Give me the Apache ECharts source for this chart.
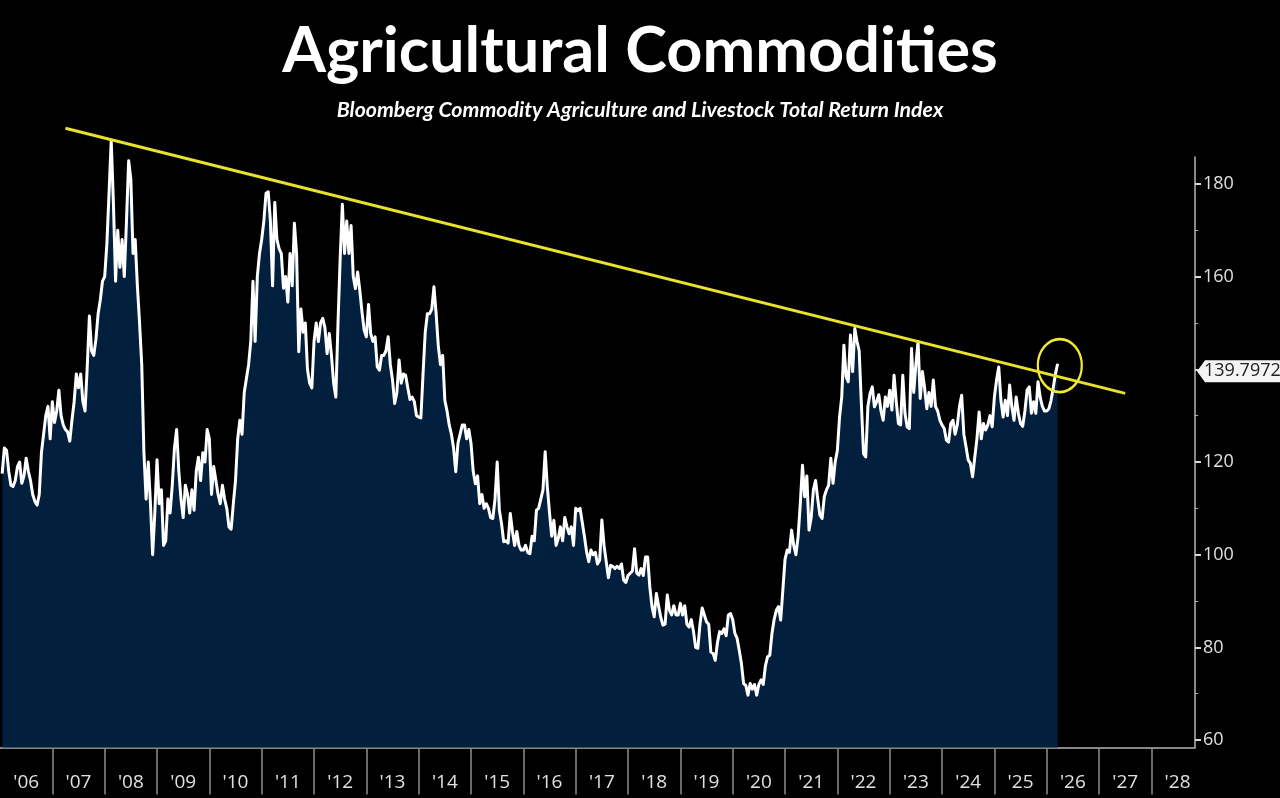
<!DOCTYPE html>
<html>
<head>
    <meta charset="utf-8">
    <script src="https://cdn.jsdelivr.net/npm/echarts@6/dist/echarts.min.js"></script>
    <style>
        html, body { margin: 0; padding: 0; background: #000; }
    </style>
</head>
<body>
    <div id="main" style="width:1280px;height:798px"></div>

    <script type="text/javascript">
        // year labels on the x axis
        var yearLabels = ["'06","'07","'08","'09","'10","'11","'12","'13","'14","'15","'16","'17","'18","'19","'20","'21","'22","'23","'24","'25","'26","'27","'28"];
        var yLabels = [60, 80, 100, 120, 160, 180];
        var yMajor = [60, 80, 100, 120, 140, 160, 180];
        var yMinor = [70, 90, 110, 130, 150, 170];

        // index level, two readings per month
        var v2006 = [null,117.5,123,122.5,118,115,114.7,116,119,120,115.4,117,120.8,118,116,113,111.5,110.7,113,122,126,130,132,125];
        var v2007 = [133,128.5,131,135.5,130,128,127,126.5,124.5,129,133,139,136,139,133,131,140.5,151.5,144,143,146.5,152,155,159];
        var v2008 = [160,167,178,189.3,176,159,170,162,168,160,172,185,181,165,168,158,150,141,122,112,120,111,100,109];
        var v2009 = [120.5,111,114,102,103,112,109,115,123,127,118,112,108,115,113,109,114,109.6,118,121,116,122,120,127];
        var v2010 = [125,113,119,116,113,111,115,112,110,106,105.5,111,116,125,129,126,135,138,141,146,159,146,160,165];
        var v2011 = [168,172,178,178.3,172,158,176,168,166,165,157.5,160,154.5,165,158,171.5,165,143.8,153,148,150,140,137,136];
        var v2012 = [146,150,146,150,151,149,143.4,147.7,143,137,134,150,164,175.6,165,172,165,171,160,157.4,161,157,152.4,148.4];
        var v2013 = [147,154,147.7,146,147,140.5,139.8,143,143,144,147,141,137.7,132.6,135,142,137,139,138.7,136,133.5,134,133,130];
        var v2014 = [129.7,129.5,139,148,152,152,153,157.8,152,145,141,143,133.3,131,128,126,123,117.9,124,126,128,128,125,127];
        var v2015 = [124,118,115.3,117,111,113,110,111,110,108,107.8,112,120,109.6,106.7,102.8,103,102.5,108.9,105,102,105,102,101];
        var v2016 = [101,102,100.5,100.2,104,103,109.6,110,112,114,122.2,114.6,109,104,107.4,102,103.5,106,103,108,106,104.5,106,102];
        var v2017 = [110,109.5,110,107,104,100.6,98.5,101,100,100.5,98,98.8,107.5,102,98.5,95,97.7,97.5,97,97.5,97,98,94.5,94];
        var v2018 = [95.5,96,96.5,101.3,96,95.6,97,95.5,99.5,99.5,93,88.8,86.6,91.6,89,86.5,84.8,85,91.3,88,87,89,87,87];
        var v2019 = [89.5,87,89,85,84.4,86,83.5,80,79.8,85,88.5,87,85.5,85,79,78.7,77.2,81,83.4,83,84,82.5,87,87.3];
        var v2020 = [86,83,82,79.4,76.5,72.2,71.8,69.7,72.2,71,72,69.7,72,73,72,76,78,78.3,83,86,88,88.8,85.9,92.4];
        var v2021 = [99,101,100.5,105.3,102,100,103.9,111,119.3,112.5,117,105.3,108,114,116,112,108.5,107.8,112.5,114,115,120.8,115.4,120];
        var v2022 = [122.5,129.7,134,145.2,138.4,137.3,147.4,139.5,148.8,146,144,132.6,121.8,121.1,132,134.8,136.2,131.9,133,134.5,131,129,134,132];
        var v2023 = [135.5,131.2,138.7,133,128.3,128,138.7,130.5,127.6,127.2,144.5,135,141,146,133.7,139.5,136,131.5,135,132,137.7,132,131,129];
        var v2024 = [128,127.2,124.7,124.3,128.3,129,126,128,132,134.4,126,123.3,120.4,119.7,116.8,121,125,130.8,125,128.3,126.9,128,130,127.6];
        var v2025 = [134,137.7,140.5,133.3,129.7,133.3,130,136.6,131.9,129,134,130.5,128.3,127.7,131,135.5,136.2,130.5,133,130.5,137.3,134,132,131];
        var v2026 = [131,131.5,133.3,136,139,141.2];

        var lastValue = 139.7972;
        var axisMin = 58.4;
        var axisMax = 185.8;

        // index positions on the half-month category axis
        var trendLine = [[30, 192], [516, 134.8]];
        var circleMark = [[486, 140.8]];

        var perYear = 24;
        var categories = [];
        for (var i = 0; i < 549; i++) {
            categories.push(yearLabels[Math.floor(i / perYear)]);
        }
        var values = [].concat(v2006, v2007, v2008, v2009, v2010, v2011, v2012, v2013, v2014, v2015,
            v2016, v2017, v2018, v2019, v2020, v2021, v2022, v2023, v2024, v2025, v2026);

        var myChart = echarts.init(document.getElementById('main'));
        var option = {
            animation: false,
            backgroundColor: '#000',
            title: [{
                text: 'Agricultural Commodities',
                left: 'center',
                top: 15,
                textStyle: { color: '#fff', fontFamily: 'Lato', fontWeight: 'bold', fontSize: 63 }
            }, {
                text: 'Bloomberg Commodity Agriculture and Livestock Total Return Index',
                left: 'center',
                top: 95,
                textStyle: { color: '#fff', fontFamily: 'Lato', fontWeight: 'bold', fontStyle: 'italic', fontSize: 21.3 }
            }],
            grid: { left: 0, right: 85, top: 157, bottom: 50.5 },
            xAxis: {
                type: 'category',
                data: categories,
                boundaryGap: false,
                axisLine: { lineStyle: { color: '#b4b4b4', width: 1.5 } },
                axisTick: {
                    length: 47,
                    interval: function (idx) { return idx % perYear === 0 && idx > 0; },
                    lineStyle: { color: '#8c8c8c', width: 1.5 }
                },
                axisLabel: {
                    interval: function (idx) { return idx % perYear === 12; },
                    color: '#e0e0e0',
                    fontFamily: 'Open Sans',
                    fontSize: 19,
                    margin: 26
                },
                splitLine: { show: false }
            },
            yAxis: [{
                type: 'value',
                position: 'right',
                min: axisMin,
                max: axisMax,
                axisLine: { show: true, lineStyle: { color: '#b4b4b4', width: 1.5 } },
                axisTick: { show: true, length: 6, customValues: yMajor, lineStyle: { color: '#d8d8d8', width: 2 } },
                axisLabel: { customValues: yLabels, color: '#e0e0e0', fontFamily: 'Open Sans', fontSize: 18, margin: 8, padding: [3, 0, 0, 0] },
                splitLine: { show: false }
            }, {
                type: 'value',
                position: 'right',
                min: axisMin,
                max: axisMax,
                axisLine: { show: false },
                axisTick: { show: true, length: 3, customValues: yMinor, lineStyle: { color: '#b4b4b4', width: 1 } },
                axisLabel: { show: false },
                splitLine: { show: false }
            }],
            series: [{
                name: 'Index',
                type: 'line',
                data: values,
                clip: false,
                showSymbol: false,
                symbol: 'none',
                sampling: null,
                lineStyle: { color: '#fff', width: 3, join: 'round' },
                areaStyle: { color: '#021f3e', origin: 'start', opacity: 1 },
                z: 2
            }, {
                name: 'Trend',
                type: 'line',
                data: trendLine,
                clip: false,
                showSymbol: false,
                symbol: 'none',
                lineStyle: { color: '#e8e22c', width: 3 },
                z: 3
            }, {
                name: 'Circle',
                type: 'scatter',
                data: circleMark,
                clip: false,
                symbol: 'circle',
                symbolSize: [44, 53],
                itemStyle: { color: 'rgba(0,0,0,0)', borderColor: '#f0ea30', borderWidth: 2.5, opacity: 1 },
                z: 4
            }, {
                name: 'Last price',
                type: 'custom',
                data: [[values.length - 1, lastValue]],
                renderItem: function (params, api) {
                    var y = api.coord([api.value(0), api.value(1)])[1] + 1;
                    var x0 = params.coordSys.x + params.coordSys.width + 2;
                    return {
                        type: 'group',
                        children: [{
                            type: 'polygon',
                            shape: { points: [[x0, y], [x0 + 8, y - 11], [1280, y - 11], [1280, y + 11], [x0 + 8, y + 11]] },
                            style: { fill: '#f4f4f4' }
                        }, {
                            type: 'text',
                            style: {
                                x: x0 + 7, y: y,
                                text: api.value(1).toFixed(4),
                                fill: '#222',
                                font: '18px "Open Sans"',
                                verticalAlign: 'middle'
                            }
                        }]
                    };
                },
                z: 5
            }]
        };
        myChart.setOption(option);
    </script>
</body>
</html>
